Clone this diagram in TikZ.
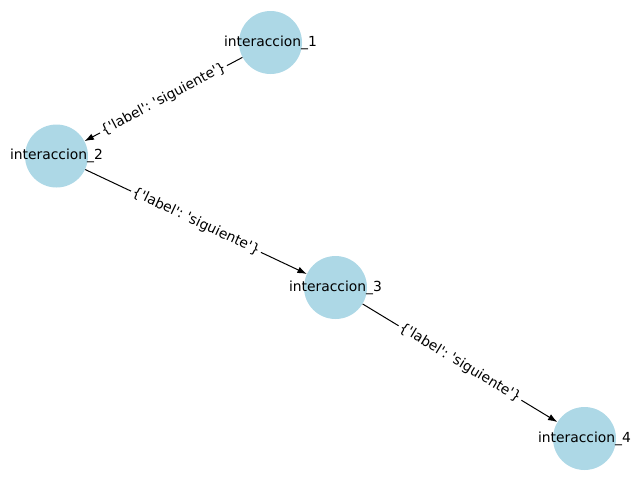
\documentclass[tikz,border=0pt]{standalone}
\usepackage{fontspec}
\setmainfont{DejaVu Sans}[Ligatures=TeXOff]
\frenchspacing
\usetikzlibrary{arrows.meta}
\begin{document}
\begin{tikzpicture}[x=0.75pt,y=-0.75pt,
  vertex/.style={circle,fill=vcolor,draw=none,minimum size=47.25pt,inner sep=0pt},
  vlabel/.style={font=\fontsize{10.4}{12}\selectfont,inner sep=0pt},
  link/.style={draw=black,line width=0.75pt,-{Latex[length=7pt,width=5pt]}},
  elabel/.style={font=\fontsize{10.4}{12}\selectfont,fill=white,inner sep=1.5pt,sloped,midway}]
\definecolor{vcolor}{HTML}{ADD8E6}
\useasboundingbox (0,0) rectangle (640,480);
% vertices
\node[vertex] (n1) at (270.5,42.5) {};
\node[vertex] (n2) at (56.5,156) {};
\node[vertex] (n3) at (335.5,287.5) {};
\node[vertex] (n4) at (584.5,438.5) {};
% directed edges with their labels
\draw[link] (n1) -- (n2) node[elabel] {\{'label': 'siguiente'\}};
\draw[link] (n2) -- (n3) node[elabel] {\{'label': 'siguiente'\}};
\draw[link] (n3) -- (n4) node[elabel] {\{'label': 'siguiente'\}};
% vertex names
\node[vlabel] (t1) at (n1) {interaccion\_1};
\node[vlabel] (t2) at (n2) {interaccion\_2};
\node[vlabel] (t3) at (n3) {interaccion\_3};
\node[vlabel] (t4) at (n4) {interaccion\_4};
\end{tikzpicture}
\end{document}
